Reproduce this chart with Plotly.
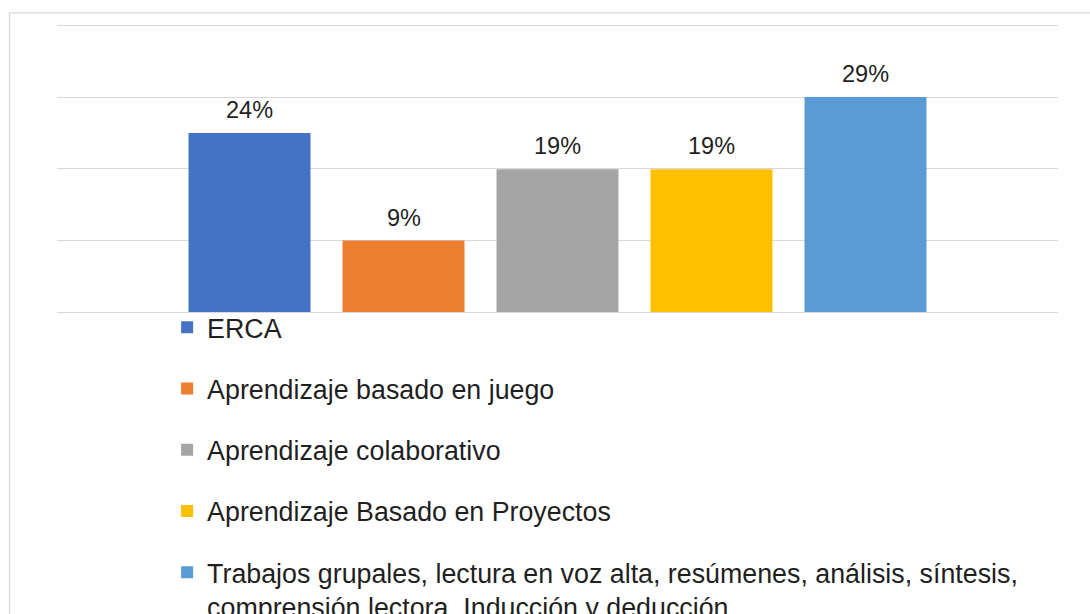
import plotly.graph_objects as go

categories = [
    "ERCA",
    "Aprendizaje basado en juego",
    "Aprendizaje colaborativo",
    "Aprendizaje Basado en Proyectos",
    "Trabajos grupales, lectura en voz alta, resúmenes, análisis, síntesis,<br>comprensión lectora, Inducción y deducción",
]
values = [0.238, 0.095, 0.190, 0.190, 0.286]
value_labels = ["24%", "9%", "19%", "19%", "29%"]
colors = ["#4472C4", "#ED7D31", "#A5A5A5", "#FFC000", "#5B9BD5"]
grid_step = 0.0952
y_max = 0.3844

FONT = "Liberation Sans, Arial, sans-serif"
TXT = "#1f1f1f"

PLOT_TOP = 23
PLOT_BOTTOM = 312
PH = PLOT_BOTTOM - PLOT_TOP

fig = go.Figure()
for i, (name, v, c) in enumerate(zip(categories, values, colors)):
    fig.add_trace(go.Bar(
        x=[i], y=[v], name=name, marker=dict(color=c, line=dict(width=0)),
        legendgroup=f"g{i}", showlegend=True, hoverinfo="skip",
    ))
    fig.add_annotation(
        x=i, y=v, text=value_labels[i], showarrow=False,
        yanchor="middle", yshift=23,
        font=dict(family=FONT, size=23.5, color=TXT),
    )

fig.update_layout(
    width=1090, height=614,
    margin=dict(l=57, r=32, t=PLOT_TOP, b=614 - PLOT_BOTTOM, autoexpand=False),
    paper_bgcolor="white", plot_bgcolor="white",
    barmode="overlay", bargap=0.208,
    showlegend=True,
    legend=dict(
        x=0.11, y=0.03, xanchor="left", yanchor="top",
        orientation="v", valign="top", maxheight=1000,
        font=dict(family=FONT, size=26.8, color=TXT),
        tracegroupgap=23.4, bgcolor="rgba(0,0,0,0)",
        itemclick=False, itemdoubleclick=False,
    ),
    xaxis=dict(
        range=[-1.25, 5.25], showticklabels=False, showgrid=False,
        zeroline=False, showline=False, ticks="",
    ),
    yaxis=dict(
        range=[0, y_max], tick0=0, dtick=grid_step, showticklabels=False,
        showgrid=True, gridcolor="#d9d9d9", gridwidth=1.3,
        zeroline=True, zerolinecolor="#d9d9d9", zerolinewidth=1.3,
        showline=False, ticks="",
    ),
    shapes=[dict(
        type="rect", xref="paper", yref="paper",
        x0=(9.5 - 57) / 1001, x1=1.2, y0=-2, y1=(PLOT_BOTTOM - 12.8) / PH,
        line=dict(color="#d9d9d9", width=1.3), fillcolor="rgba(0,0,0,0)",
        layer="below",
    )],
)

fig.write_html(
    "out.html",
    config={"displayModeBar": False},
    post_script="document.body.style.margin='0';document.body.style.overflow='hidden';",
)
